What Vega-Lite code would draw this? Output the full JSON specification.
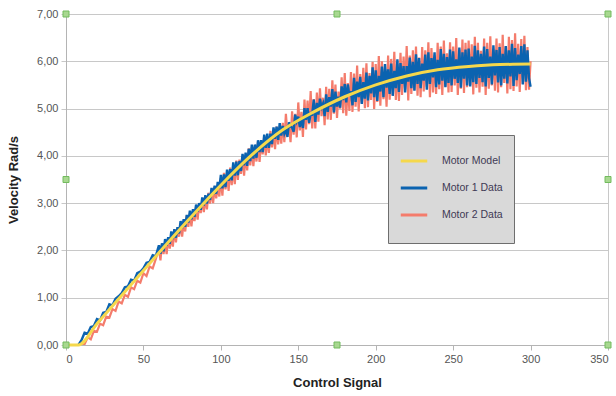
{
  "$schema": "https://vega.github.io/schema/vega-lite/v6.json",
  "width": 542,
  "height": 331,
  "autosize": "none",
  "padding": {"left": 66, "top": 14, "right": 8, "bottom": 51},
  "background": "white",
  "config": {
    "view": {"stroke": "#c8c8c8", "strokeWidth": 1},
    "font": "Liberation Sans"
  },
  "datasets": {
    "motors": [
      {"x":8,"b":0.00,"r":0.00},{"x":10,"b":0.10,"r":0.00},{"x":12,"b":0.26,"r":0.02},{"x":14,"b":0.24,"r":0.16},{"x":16,"b":0.38,"r":0.12},{"x":18,"b":0.40,"r":0.30},{"x":20,"b":0.55,"r":0.28},{"x":22,"b":0.52,"r":0.45},{"x":24,"b":0.68,"r":0.42},{"x":26,"b":0.70,"r":0.60},{"x":28,"b":0.86,"r":0.58},{"x":30,"b":0.84,"r":0.76},{"x":32,"b":0.98,"r":0.72},{"x":34,"b":1.03,"r":0.92},{"x":36,"b":1.10,"r":0.88},{"x":38,"b":1.22,"r":1.06},{"x":40,"b":1.24,"r":1.02},{"x":42,"b":1.38,"r":1.22},{"x":44,"b":1.36,"r":1.18},{"x":46,"b":1.52,"r":1.36},{"x":48,"b":1.55,"r":1.32},{"x":50,"b":1.62,"r":1.52},{"x":52,"b":1.74,"r":1.46},{"x":54,"b":1.76,"r":1.66},{"x":56,"b":1.90,"r":1.62},{"x":58,"b":1.88,"r":1.82},
      {"x":60,"b":2.11,"r":2.05},{"x":61,"b":1.93,"r":1.79},{"x":62,"b":2.15,"r":2.15},{"x":63,"b":1.98,"r":1.92},{"x":64,"b":2.24,"r":2.18},{"x":65,"b":2.10,"r":1.92},{"x":66,"b":2.28,"r":2.28},{"x":67,"b":2.14,"r":2.04},{"x":68,"b":2.40,"r":2.30},{"x":69,"b":2.24,"r":2.08},
      {"x":70,"b":2.45,"r":2.45},{"x":71,"b":2.27,"r":2.17},{"x":72,"b":2.49,"r":2.48},{"x":73,"b":2.36,"r":2.29},{"x":74,"b":2.62,"r":2.57},{"x":75,"b":2.47,"r":2.29},{"x":76,"b":2.66,"r":2.61},{"x":77,"b":2.50,"r":2.40},{"x":78,"b":2.75,"r":2.74},{"x":79,"b":2.59,"r":2.50},
      {"x":80,"b":2.84,"r":2.78},{"x":81,"b":2.66,"r":2.51},{"x":82,"b":2.87,"r":2.81},{"x":83,"b":2.71,"r":2.62},{"x":84,"b":2.97,"r":2.93},{"x":85,"b":2.82,"r":2.65},{"x":86,"b":3.00,"r":2.99},{"x":87,"b":2.86,"r":2.79},{"x":88,"b":3.12,"r":3.09},{"x":89,"b":2.95,"r":2.81},
      {"x":90,"b":3.17,"r":3.11},{"x":91,"b":2.99,"r":2.87},{"x":92,"b":3.20,"r":3.22},{"x":93,"b":3.07,"r":2.99},{"x":94,"b":3.32,"r":3.26},{"x":95,"b":3.18,"r":3.00},{"x":96,"b":3.37,"r":3.35},{"x":97,"b":3.20,"r":3.10},{"x":98,"b":3.45,"r":3.37},{"x":99,"b":3.30,"r":3.14},
      {"x":100,"b":3.60,"r":3.53},{"x":101,"b":3.31,"r":3.16},{"x":102,"b":3.61,"r":3.64},{"x":103,"b":3.34,"r":3.29},{"x":104,"b":3.71,"r":3.64},{"x":105,"b":3.47,"r":3.26},{"x":106,"b":3.72,"r":3.75},{"x":107,"b":3.48,"r":3.38},{"x":108,"b":3.86,"r":3.74},{"x":109,"b":3.58,"r":3.40},
      {"x":110,"b":3.88,"r":3.90},{"x":111,"b":3.59,"r":3.49},{"x":112,"b":3.89,"r":3.92},{"x":113,"b":3.68,"r":3.62},{"x":114,"b":4.04,"r":4.00},{"x":115,"b":3.80,"r":3.58},{"x":116,"b":4.07,"r":4.02},{"x":117,"b":3.79,"r":3.69},{"x":118,"b":4.15,"r":4.16},{"x":119,"b":3.89,"r":3.80},
      {"x":120,"b":4.24,"r":4.18},{"x":121,"b":3.94,"r":3.78},{"x":122,"b":4.24,"r":4.18},{"x":123,"b":3.96,"r":3.88},{"x":124,"b":4.33,"r":4.30},{"x":125,"b":4.08,"r":3.87},{"x":126,"b":4.33,"r":4.33},{"x":127,"b":4.08,"r":4.03},{"x":128,"b":4.45,"r":4.43},{"x":129,"b":4.17,"r":4.01},
      {"x":130,"b":4.47,"r":4.41},{"x":131,"b":4.17,"r":4.06},{"x":132,"b":4.47,"r":4.53},{"x":133,"b":4.25,"r":4.18},{"x":134,"b":4.60,"r":4.53},{"x":135,"b":4.36,"r":4.14},{"x":136,"b":4.62,"r":4.62},{"x":137,"b":4.34,"r":4.24},{"x":138,"b":4.69,"r":4.60},{"x":139,"b":4.43,"r":4.26},
      {"x":140,"b":4.63,"r":4.70},{"x":141,"b":4.47,"r":4.29},{"x":142,"b":4.56,"r":4.89},{"x":143,"b":4.40,"r":4.45},{"x":144,"b":4.71,"r":4.66},{"x":145,"b":4.62,"r":4.29},{"x":146,"b":4.60,"r":4.94},{"x":147,"b":4.51,"r":4.45},{"x":148,"b":4.87,"r":4.89},{"x":149,"b":4.73,"r":4.39},
      {"x":150,"b":4.83,"r":5.13},{"x":151,"b":4.61,"r":4.54},{"x":152,"b":4.80,"r":4.93},{"x":153,"b":4.59,"r":4.40},{"x":154,"b":5.01,"r":5.19},{"x":155,"b":4.76,"r":4.56},{"x":156,"b":5.01,"r":5.17},{"x":157,"b":4.70,"r":4.67},{"x":158,"b":4.90,"r":5.37},{"x":159,"b":4.88,"r":4.58},
      {"x":160,"b":5.19,"r":5.20},{"x":161,"b":4.72,"r":4.58},{"x":162,"b":5.12,"r":5.34},{"x":163,"b":4.87,"r":4.72},{"x":164,"b":5.21,"r":5.43},{"x":165,"b":5.03,"r":4.84},{"x":166,"b":5.11,"r":5.23},{"x":167,"b":4.84,"r":4.65},{"x":168,"b":5.30,"r":5.46},{"x":169,"b":4.93,"r":4.77},
      {"x":170,"b":5.24,"r":5.42},{"x":171,"b":5.04,"r":4.76},{"x":172,"b":5.41,"r":5.60},{"x":173,"b":4.92,"r":4.89},{"x":174,"b":5.36,"r":5.51},{"x":175,"b":5.04,"r":4.80},{"x":176,"b":5.25,"r":5.36},{"x":177,"b":5.02,"r":5.00},{"x":178,"b":5.47,"r":5.66},{"x":179,"b":5.18,"r":4.90},
      {"x":180,"b":5.52,"r":5.75},{"x":181,"b":5.13,"r":4.85},{"x":182,"b":5.51,"r":5.54},{"x":183,"b":5.27,"r":4.95},{"x":184,"b":5.37,"r":5.77},{"x":185,"b":5.07,"r":4.93},{"x":186,"b":5.65,"r":5.74},{"x":187,"b":5.14,"r":5.04},{"x":188,"b":5.57,"r":5.91},{"x":189,"b":5.24,"r":4.94},
      {"x":190,"b":5.67,"r":5.73},{"x":191,"b":5.10,"r":5.12},{"x":192,"b":5.56,"r":5.86},{"x":193,"b":5.21,"r":5.01},{"x":194,"b":5.76,"r":5.96},{"x":195,"b":5.17,"r":5.03},{"x":196,"b":5.69,"r":5.75},{"x":197,"b":5.32,"r":5.18},{"x":198,"b":5.87,"r":5.99},{"x":199,"b":5.24,"r":4.99},
      {"x":200,"b":5.81,"r":5.94},{"x":201,"b":5.16,"r":5.14},{"x":202,"b":5.69,"r":6.11},{"x":203,"b":5.36,"r":5.06},{"x":204,"b":5.89,"r":6.00},{"x":205,"b":5.24,"r":5.20},{"x":206,"b":5.94,"r":5.84},{"x":207,"b":5.44,"r":5.04},{"x":208,"b":5.83,"r":6.12},{"x":209,"b":5.31,"r":5.19},
      {"x":210,"b":5.95,"r":6.05},{"x":211,"b":5.27,"r":5.28},{"x":212,"b":5.80,"r":6.20},{"x":213,"b":5.43,"r":5.18},{"x":214,"b":6.04,"r":5.94},{"x":215,"b":5.35,"r":5.16},{"x":216,"b":5.96,"r":6.18},{"x":217,"b":5.52,"r":5.29},{"x":218,"b":5.90,"r":6.10},{"x":219,"b":5.34,"r":5.40},
      {"x":220,"b":5.90,"r":6.32},{"x":221,"b":5.57,"r":5.17},{"x":222,"b":6.08,"r":6.12},{"x":223,"b":5.43,"r":5.31},{"x":224,"b":5.99,"r":6.23},{"x":225,"b":5.38,"r":5.39},{"x":226,"b":6.15,"r":6.31},{"x":227,"b":5.52,"r":5.27},{"x":228,"b":6.07,"r":6.08},{"x":229,"b":5.43,"r":5.24},
      {"x":230,"b":5.95,"r":6.30},{"x":231,"b":5.59,"r":5.36},{"x":232,"b":6.14,"r":6.23},{"x":233,"b":5.40,"r":5.46},{"x":234,"b":6.19,"r":6.40},{"x":235,"b":5.52,"r":5.24},{"x":236,"b":6.07,"r":6.28},{"x":237,"b":5.66,"r":5.34},{"x":238,"b":6.19,"r":6.12},{"x":239,"b":5.45,"r":5.31},
      {"x":240,"b":6.03,"r":6.39},{"x":241,"b":5.51,"r":5.41},{"x":242,"b":6.26,"r":6.31},{"x":243,"b":5.59,"r":5.29},{"x":244,"b":6.16,"r":6.44},{"x":245,"b":5.45,"r":5.47},{"x":246,"b":6.09,"r":6.17},{"x":247,"b":5.54,"r":5.34},{"x":248,"b":6.25,"r":6.40},{"x":249,"b":5.49,"r":5.35},
      {"x":250,"b":6.21,"r":6.31},{"x":251,"b":5.63,"r":5.49},{"x":252,"b":6.04,"r":6.49},{"x":253,"b":5.54,"r":5.29},{"x":254,"b":6.29,"r":6.25},{"x":255,"b":5.44,"r":5.42},{"x":256,"b":6.19,"r":6.46},{"x":257,"b":5.63,"r":5.33},{"x":258,"b":6.25,"r":6.39},{"x":259,"b":5.49,"r":5.45},
      {"x":260,"b":6.27,"r":6.44},{"x":261,"b":5.47,"r":5.50},{"x":262,"b":6.10,"r":6.36},{"x":263,"b":5.56,"r":5.30},{"x":264,"b":6.33,"r":6.52},{"x":265,"b":5.52,"r":5.44},{"x":266,"b":6.23,"r":6.39},{"x":267,"b":5.65,"r":5.34},{"x":268,"b":6.16,"r":6.22},{"x":269,"b":5.56,"r":5.46},
      {"x":270,"b":6.31,"r":6.48},{"x":271,"b":5.47,"r":5.29},{"x":272,"b":6.26,"r":6.39},{"x":273,"b":5.65,"r":5.42},{"x":274,"b":6.10,"r":6.53},{"x":275,"b":5.51,"r":5.49},{"x":276,"b":6.34,"r":6.25},{"x":277,"b":5.70,"r":5.38},{"x":278,"b":6.24,"r":6.48},{"x":279,"b":5.55,"r":5.34},
      {"x":280,"b":6.30,"r":6.38},{"x":281,"b":5.49,"r":5.45},{"x":282,"b":6.16,"r":6.56},{"x":283,"b":5.63,"r":5.54},{"x":284,"b":6.32,"r":6.31},{"x":285,"b":5.53,"r":5.32},{"x":286,"b":6.23,"r":6.52},{"x":287,"b":5.68,"r":5.41},{"x":288,"b":6.37,"r":6.45},{"x":289,"b":5.48,"r":5.37},
      {"x":290,"b":6.28,"r":6.59},{"x":291,"b":5.60,"r":5.47},{"x":292,"b":6.14,"r":6.37},{"x":293,"b":5.73,"r":5.35},{"x":294,"b":6.32,"r":6.47},{"x":295,"b":5.51,"r":5.52},{"x":296,"b":6.36,"r":6.54},{"x":297,"b":5.57,"r":5.39},{"x":298,"b":6.23,"r":6.30},{"x":299,"b":5.65,"r":5.40},
      {"x":300,"b":5.46,"r":6.00}
    ],
    "model": [
      {"x":0,"m":0},{"x":8,"m":0},{"x":20,"m":0.45},{"x":40,"m":1.2},{"x":60,"m":1.95},{"x":80,"m":2.68},{"x":100,"m":3.38},{"x":120,"m":4.02},{"x":140,"m":4.55},{"x":160,"m":4.93},{"x":180,"m":5.25},{"x":200,"m":5.5},{"x":220,"m":5.69},{"x":240,"m":5.82},{"x":260,"m":5.89},{"x":280,"m":5.93},{"x":300,"m":5.94}
    ],
    "handles": [
      {"hx":0,"hy":7},{"hx":175,"hy":7},{"hx":350,"hy":7},{"hx":0,"hy":3.5},{"hx":350,"hy":3.5},{"hx":0,"hy":0},{"hx":175,"hy":0},{"hx":350,"hy":0}
    ]
  },
  "encoding": {
    "x": {
      "type": "quantitative",
      "scale": {"domain": [0, 350], "nice": false},
      "axis": {
        "title": "Control Signal",
        "values": [0, 50, 100, 150, 200, 250, 300, 350],
        "grid": false,
        "domainColor": "#b4b4b4",
        "tickColor": "#b4b4b4",
        "tickSize": 5,
        "labelPadding": 3,
        "labelFont": "Liberation Sans",
        "labelFontSize": 11,
        "labelColor": "#555555",
        "titleFont": "Liberation Sans",
        "titleFontSize": 13,
        "titleFontWeight": "bold",
        "titleColor": "#222222",
        "titlePadding": 12
      }
    },
    "y": {
      "type": "quantitative",
      "scale": {"domain": [0, 7], "nice": false},
      "axis": {
        "title": "Velocity Rad/s",
        "values": [0, 1, 2, 3, 4, 5, 6, 7],
        "labelExpr": "replace(format(datum.value, '.2f'), '.', ',')",
        "grid": true,
        "gridColor": "#c8c8c8",
        "domainColor": "#b4b4b4",
        "tickColor": "#c8c8c8",
        "tickSize": 5,
        "labelPadding": 3,
        "labelFont": "Liberation Sans",
        "labelFontSize": 11,
        "labelColor": "#555555",
        "titleFont": "Liberation Sans",
        "titleFontSize": 13,
        "titleFontWeight": "bold",
        "titleColor": "#222222",
        "titlePadding": 16
      }
    }
  },
  "layer": [
    {
      "data": {"name": "motors"},
      "mark": {"type": "line", "strokeWidth": 2.2, "clip": true},
      "encoding": {
        "x": {"field": "x", "type": "quantitative"},
        "y": {"field": "r", "type": "quantitative"},
        "color": {
          "datum": "Motor 2 Data",
          "scale": {"domain": ["Motor Model", "Motor 1 Data", "Motor 2 Data"], "range": ["#f5d84c", "#0b63b0", "#f47c6c"]},
          "legend": {
            "title": " ",
            "titleOrient": "bottom",
            "titleFontSize": 10,
            "titlePadding": 1,
            "orient": "none",
            "legendX": 322,
            "legendY": 121,
            "fillColor": "#d9d9d9",
            "strokeColor": "#6e6e6e",
            "padding": 11,
            "symbolType": "stroke",
            "symbolSize": 700,
            "symbolStrokeWidth": 3,
            "rowPadding": 6,
            "labelOffset": 13,
            "labelFont": "Liberation Sans",
            "labelFontSize": 10.5,
            "labelColor": "#3f3a55"
          }
        }
      }
    },
    {
      "data": {"name": "motors"},
      "mark": {"type": "line", "strokeWidth": 2.4, "clip": true},
      "encoding": {
        "x": {"field": "x", "type": "quantitative"},
        "y": {"field": "b", "type": "quantitative"},
        "color": {"datum": "Motor 1 Data"}
      }
    },
    {
      "data": {"name": "model"},
      "mark": {"type": "line", "strokeWidth": 3, "interpolate": "monotone"},
      "encoding": {
        "x": {"field": "x", "type": "quantitative"},
        "y": {"field": "m", "type": "quantitative"},
        "color": {"datum": "Motor Model"}
      }
    },
    {
      "data": {"name": "handles"},
      "mark": {"type": "point", "shape": "square", "size": 36, "filled": true, "fill": "#a8d890", "stroke": "#72bb5e", "strokeWidth": 1, "opacity": 1, "clip": false},
      "encoding": {
        "x": {"field": "hx", "type": "quantitative"},
        "y": {"field": "hy", "type": "quantitative"}
      }
    }
  ]
}
